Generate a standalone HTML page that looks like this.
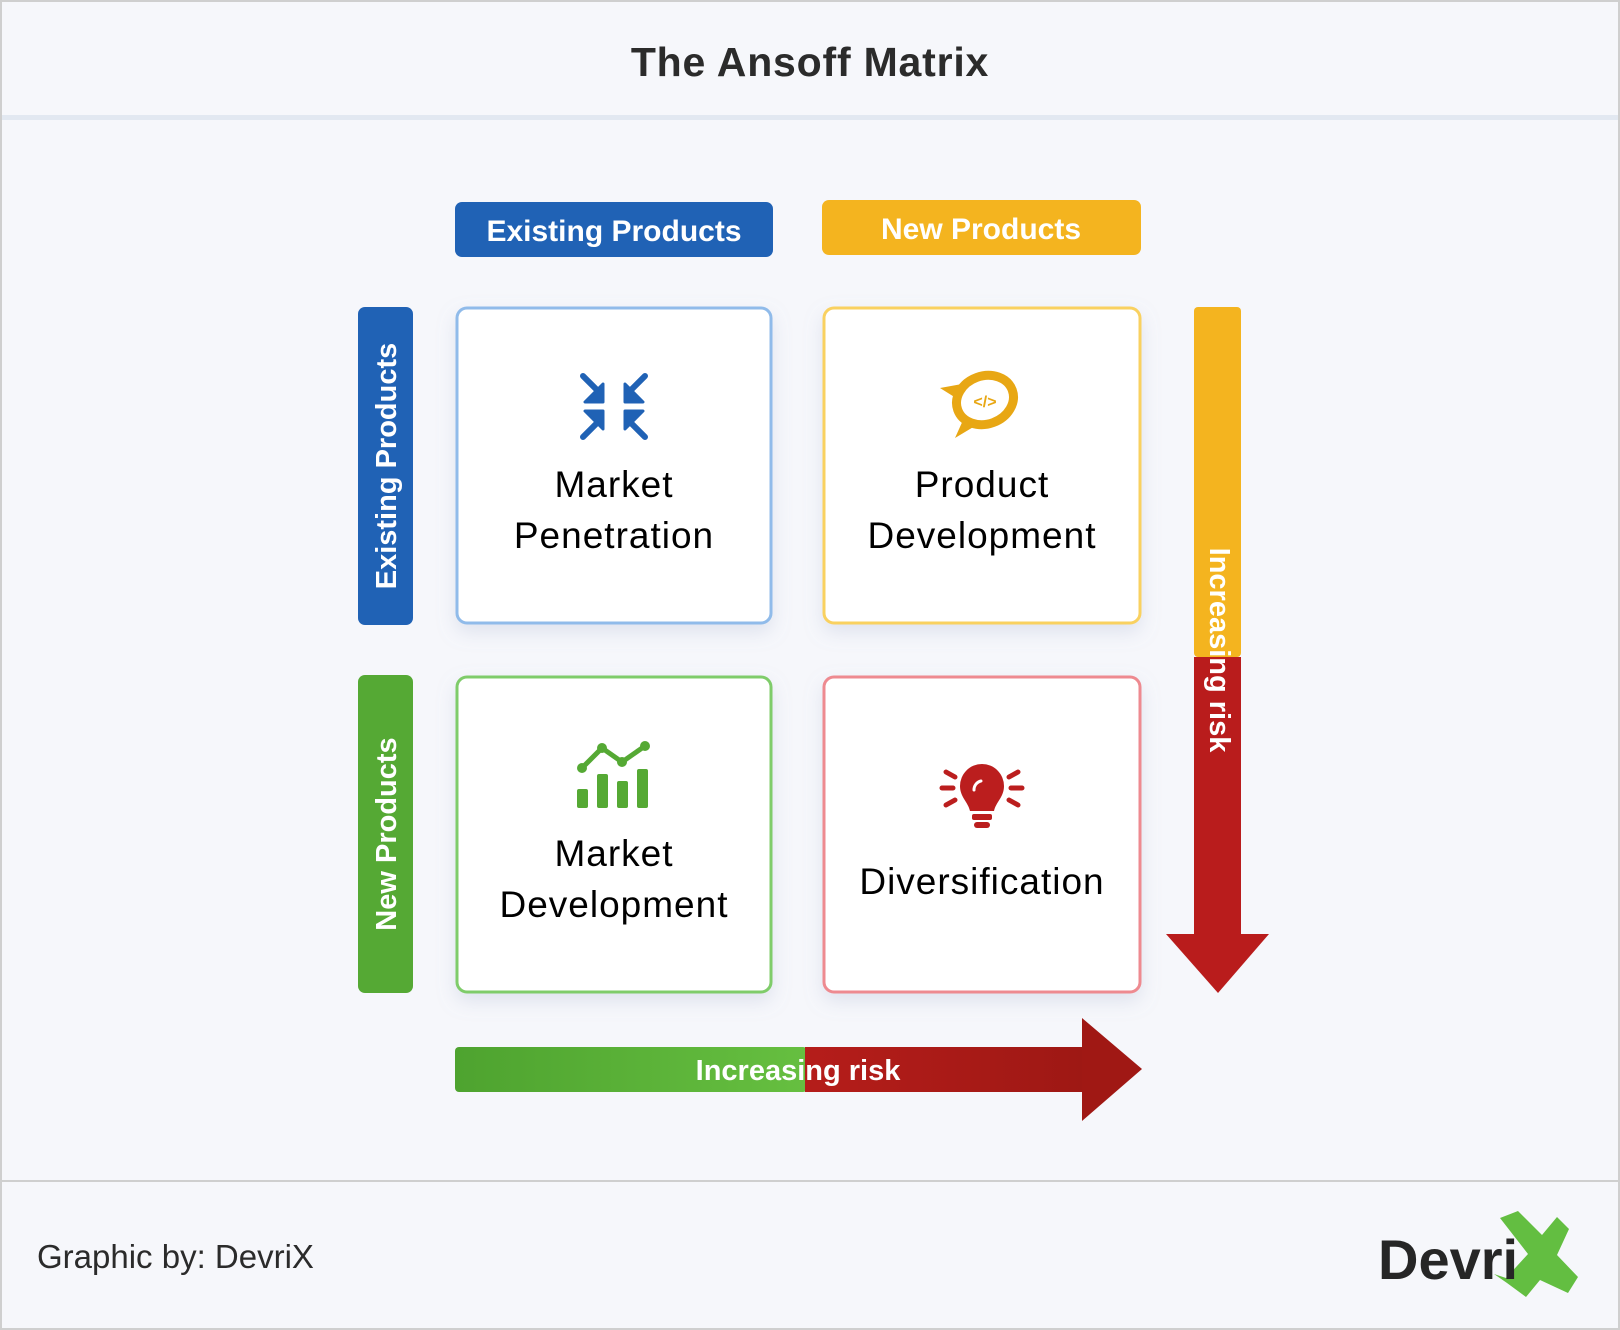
<!DOCTYPE html>
<html><head><meta charset="utf-8"><style>
html,body{margin:0;padding:0;background:#f6f7fb}
svg{display:block}
text{font-family:"Liberation Sans",sans-serif}
</style></head><body>
<svg width="1620" height="1330" viewBox="0 0 1620 1330" xmlns="http://www.w3.org/2000/svg">
<defs>
<filter id="sh" x="-20%" y="-20%" width="140%" height="140%"><feDropShadow dx="0" dy="8" stdDeviation="9" flood-color="#9aa8c8" flood-opacity="0.25"/></filter>
<linearGradient id="gg" x1="0" x2="1"><stop offset="0" stop-color="#4ea32f"/><stop offset="1" stop-color="#66bf40"/></linearGradient>
<linearGradient id="rg" x1="0" x2="1"><stop offset="0" stop-color="#b51d1a"/><stop offset="1" stop-color="#9e1814"/></linearGradient>
</defs>
<rect x="1" y="1" width="1618" height="1328" fill="#f6f7fb" stroke="#cfcfcf" stroke-width="2"/>
<rect x="2" y="115" width="1616" height="5" fill="#e2e8f1"/>
<text x="810" y="76" text-anchor="middle" font-size="41" font-weight="bold" fill="#2b2b2b" letter-spacing="0.8">The Ansoff Matrix</text>

<rect x="455" y="202" width="318" height="55" rx="7" fill="#2062b5"/>
<text x="614" y="241" text-anchor="middle" font-size="30" font-weight="bold" fill="#fff">Existing Products</text>
<rect x="822" y="200" width="319" height="55" rx="7" fill="#f4b41f"/>
<text x="981" y="239" text-anchor="middle" font-size="30" font-weight="bold" fill="#fff">New Products</text>

<rect x="358" y="307" width="55" height="318" rx="7" fill="#2062b5"/>
<text transform="translate(396,466) rotate(-90)" text-anchor="middle" font-size="29" font-weight="bold" fill="#fff">Existing Products</text>
<rect x="358" y="675" width="55" height="318" rx="7" fill="#55a934"/>
<text transform="translate(396,834) rotate(-90)" text-anchor="middle" font-size="29" font-weight="bold" fill="#fff">New Products</text>

<g filter="url(#sh)">
<rect x="457" y="308" width="314" height="315" rx="10" fill="#fff" stroke="#90bbea" stroke-width="3"/>
<rect x="824" y="308" width="316" height="315" rx="10" fill="#fff" stroke="#f9d160" stroke-width="3"/>
<rect x="457" y="677" width="314" height="315" rx="10" fill="#fff" stroke="#7fcc6a" stroke-width="3"/>
<rect x="824" y="677" width="316" height="315" rx="10" fill="#fff" stroke="#ee8a90" stroke-width="3"/>
</g>
<g font-size="37" fill="#000" text-anchor="middle" letter-spacing="1">
<text x="614" y="497">Market</text><text x="614" y="548">Penetration</text>
<text x="982" y="497">Product</text><text x="982" y="548">Development</text>
<text x="614" y="866">Market</text><text x="614" y="917">Development</text>
<text x="982" y="894">Diversification</text>
</g>

<g fill="#2062b5" stroke="#2062b5" stroke-linecap="round" stroke-width="6">
<line x1="583" y1="376" x2="598" y2="391"/><line x1="645" y1="376" x2="630" y2="391"/>
<line x1="583" y1="437" x2="598" y2="422"/><line x1="645" y1="437" x2="630" y2="422"/>
<path d="M585 402h18v-18z M643 402h-18v-18z M585 411h18v18z M643 411h-18v18z" stroke-width="3" stroke-linejoin="round"/>
</g>

<g fill="none" stroke="#e8a714" stroke-width="9">
<ellipse cx="985" cy="400" rx="29" ry="24" transform="rotate(-20 985 400)"/>
</g>
<path d="M940 388l22 -4 -6 14z M964 418l-9 20 20-12z" fill="#e8a714"/>
<text x="985" y="407" text-anchor="middle" font-size="16" font-weight="bold" fill="#e8a714">&lt;/&gt;</text>

<g fill="#55a934">
<rect x="577" y="789" width="11" height="19" rx="2"/><rect x="597" y="774" width="11" height="34" rx="2"/>
<rect x="617" y="781" width="11" height="27" rx="2"/><rect x="637" y="769" width="11" height="39" rx="2"/>
<polyline points="582,768 602,748 622,762 645,746" fill="none" stroke="#55a934" stroke-width="5"/>
<circle cx="582" cy="768" r="5"/><circle cx="602" cy="748" r="5"/><circle cx="622" cy="762" r="5"/><circle cx="645" cy="746" r="5"/>
</g>

<g fill="#bb1e1e">
<path d="M982 764a22 22 0 0 1 22 22c0 11-8 16-10 25h-24c-2-9-10-14-10-25a22 22 0 0 1 22-22z"/>
<rect x="972" y="814" width="20" height="6" rx="2"/><rect x="974" y="822" width="16" height="6" rx="3"/>
<g stroke="#bb1e1e" stroke-width="5" stroke-linecap="round">
<line x1="942" y1="788" x2="953" y2="788"/><line x1="1011" y1="788" x2="1022" y2="788"/>
<line x1="946" y1="772" x2="955" y2="777"/><line x1="1018" y1="772" x2="1009" y2="777"/>
<line x1="946" y1="805" x2="955" y2="800"/><line x1="1018" y1="805" x2="1009" y2="800"/>
</g>
<path d="M974 790a9 9 0 0 1 7-9" stroke="#fff" stroke-width="3" fill="none" stroke-linecap="round"/>
</g>

<rect x="1194" y="307" width="47" height="350" rx="4" fill="#f4b41f"/>
<rect x="1194" y="657" width="47" height="280" fill="#b91c1c"/>
<polygon points="1166,934 1269,934 1218,993" fill="#b91c1c"/>
<text transform="translate(1210,650) rotate(90)" text-anchor="middle" font-size="29" font-weight="bold" fill="#fff">Increasing risk</text>

<rect x="455" y="1047" width="352" height="45" rx="4" fill="url(#gg)"/>
<rect x="805" y="1047" width="280" height="45" fill="url(#rg)"/>
<polygon points="1082,1018 1142,1069 1082,1121" fill="#a01814"/>
<text x="798" y="1080" text-anchor="middle" font-size="29" font-weight="bold" fill="#fff">Increasing risk</text>

<rect x="2" y="1180" width="1616" height="2" fill="#cfcfcf"/>
<text x="37" y="1268" font-size="33" fill="#2b2b2b">Graphic by: DevriX</text>
<polygon points="1500,1218 1518,1211 1542,1235 1557,1217 1569,1229 1557,1255 1578,1277 1568,1293 1540,1280 1526,1297 1507,1283 1494,1274 1506,1278 1528,1254" fill="#63be41"/>
<text x="1378" y="1279" font-size="56" font-weight="bold" fill="#262626">Devri</text>
</svg>
</body></html>
